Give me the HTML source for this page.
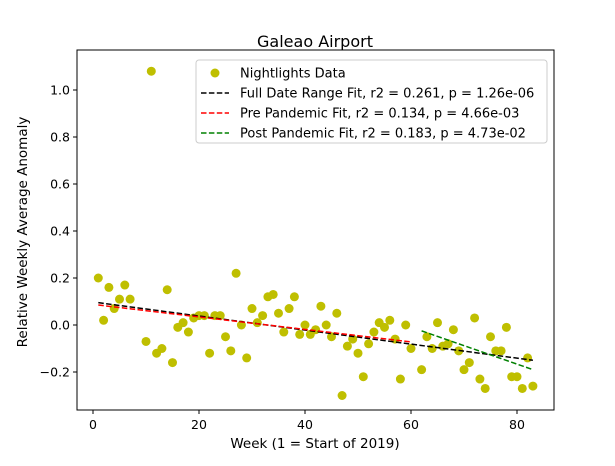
<!DOCTYPE html>
<html><head><meta charset="utf-8"><style>
body{margin:0;background:#fff;font-family:"Liberation Sans","DejaVu Sans",sans-serif}
</style></head><body>
<svg id="chart" width="615" height="461" xmlns="http://www.w3.org/2000/svg" font-family="DejaVu Sans, Liberation Sans, sans-serif"></svg>
<script>
const weeks=[1,2,3,4,5,6,7,10,11,12,13,14,15,16,17,18,19,20,21,22,23,24,25,26,27,28,29,30,31,32,33,34,35,36,37,38,39,40,41,42,43,44,45,46,47,48,49,50,51,52,53,54,55,56,57,58,59,60,62,63,64,65,66,67,68,69,70,71,72,73,74,75,76,77,78,79,80,81,82,83];
const values=[0.20,0.02,0.16,0.07,0.11,0.17,0.11,-0.07,1.08,-0.12,-0.10,0.15,-0.16,-0.01,0.01,-0.03,0.03,0.04,0.04,-0.12,0.04,0.04,-0.05,-0.11,0.22,0.00,-0.14,0.07,0.01,0.04,0.12,0.13,0.05,-0.03,0.07,0.12,-0.04,0.00,-0.04,-0.02,0.08,0.00,-0.05,0.05,-0.30,-0.09,-0.06,-0.12,-0.22,-0.08,-0.03,0.01,-0.01,0.02,-0.06,-0.23,0.00,-0.10,-0.19,-0.05,-0.10,0.01,-0.09,-0.08,-0.02,-0.11,-0.19,-0.16,0.03,-0.23,-0.27,-0.05,-0.11,-0.11,-0.01,-0.22,-0.22,-0.27,-0.14,-0.26];
const xTicks=[0,20,40,60,80];
const yTicks=[-0.2,0.0,0.2,0.4,0.6,0.8,1.0];
const fullFit=[[1,0.095],[83,-0.150]];
const preFit=[[1,0.085],[60,-0.072]];
const postFit=[[62,-0.025],[83,-0.190]];
const legendLabels=["Nightlights Data","Full Date Range Fit, r2 = 0.261, p = 1.26e-06","Pre Pandemic Fit, r2 = 0.134, p = 4.66e-03","Post Pandemic Fit, r2 = 0.183, p = 4.73e-02"];

const NS="http://www.w3.org/2000/svg";
const svg=document.getElementById('chart');
const L=77,R=554,T=50,B=410;
const X=w=>93+(w-0)*(517-93)/80;
const Y=v=>325-v*(325-90)/1.0;
function mk(tag,attrs,parent){const e=document.createElementNS(NS,tag);for(const k in attrs)e.setAttribute(k,attrs[k]);(parent||svg).appendChild(e);return e;}

const title=mk('text',{x:315,y:47,'text-anchor':'middle','font-size':16});
title.textContent='Galeao Airport';



xTicks.forEach(t=>{
  const ln=mk('line',{x1:X(t),x2:X(t),y1:B,y2:B+4,stroke:'#000'});
  
  
  const tx=mk('text',{x:X(t),y:B+19,'text-anchor':'middle','font-size':12.5});
  tx.textContent=t;
  
  
});
yTicks.forEach(t=>{
  const ln=mk('line',{x1:L-4,x2:L,y1:Y(t),y2:Y(t),stroke:'#000'});
  
  
  const tx=mk('text',{x:L-7,y:Y(t)+4.5,'text-anchor':'end','font-size':12.5});
  tx.textContent=(t<0?'\u2212':'')+Math.abs(t).toFixed(1);
  
  
});
const xl=mk('text',{x:315,y:448,'text-anchor':'middle','font-size':13.5});
xl.textContent='Week (1 = Start of 2019)';


const yl=mk('text',{x:0,y:0,'text-anchor':'middle','font-size':13.5,transform:'translate(27,232) rotate(-90)'});
yl.textContent='Relative Weekly Average Anomaly';



weeks.forEach((w,i)=>{
  const c=mk('circle',{cx:X(w),cy:Y(values[i]),r:4.5,fill:'#bfbf00'});
  
  
});
function fitLine(f,color,name){
  const l=mk('line',{x1:X(f[0][0]),y1:Y(f[0][1]),x2:X(f[1][0]),y2:Y(f[1][1]),stroke:color,'stroke-width':1.5,'stroke-dasharray':'5.5,2.4'});
  
  
}
fitLine(fullFit,'#000','full-fit-line');
fitLine(preFit,'#ff0000','pre-pandemic-fit-line');
fitLine(postFit,'#008000','post-pandemic-fit-line');

const frame=mk('rect',{x:L,y:T,width:R-L,height:B-T,fill:'none',stroke:'#000','stroke-width':1});



const lg=mk('g',{});


mk('rect',{x:196,y:60,width:351,height:83,rx:3,fill:'#fff','fill-opacity':0.8,stroke:'#ccc'},lg);
const colors=['#bfbf00','#000','#ff0000','#008000'];
legendLabels.forEach((lab,i)=>{
  const yy=73+i*20;
  if(i===0){mk('circle',{cx:215,cy:yy,r:4.5,fill:colors[0]},lg);}
  else{mk('line',{x1:201,x2:229,y1:yy,y2:yy,stroke:colors[i],'stroke-width':1.5,'stroke-dasharray':'5.5,2.4'},lg);}
  const t=mk('text',{x:240,y:yy+4.5,'font-size':13},lg);
  t.textContent=lab;
  
  
});
</script>
</body></html>
